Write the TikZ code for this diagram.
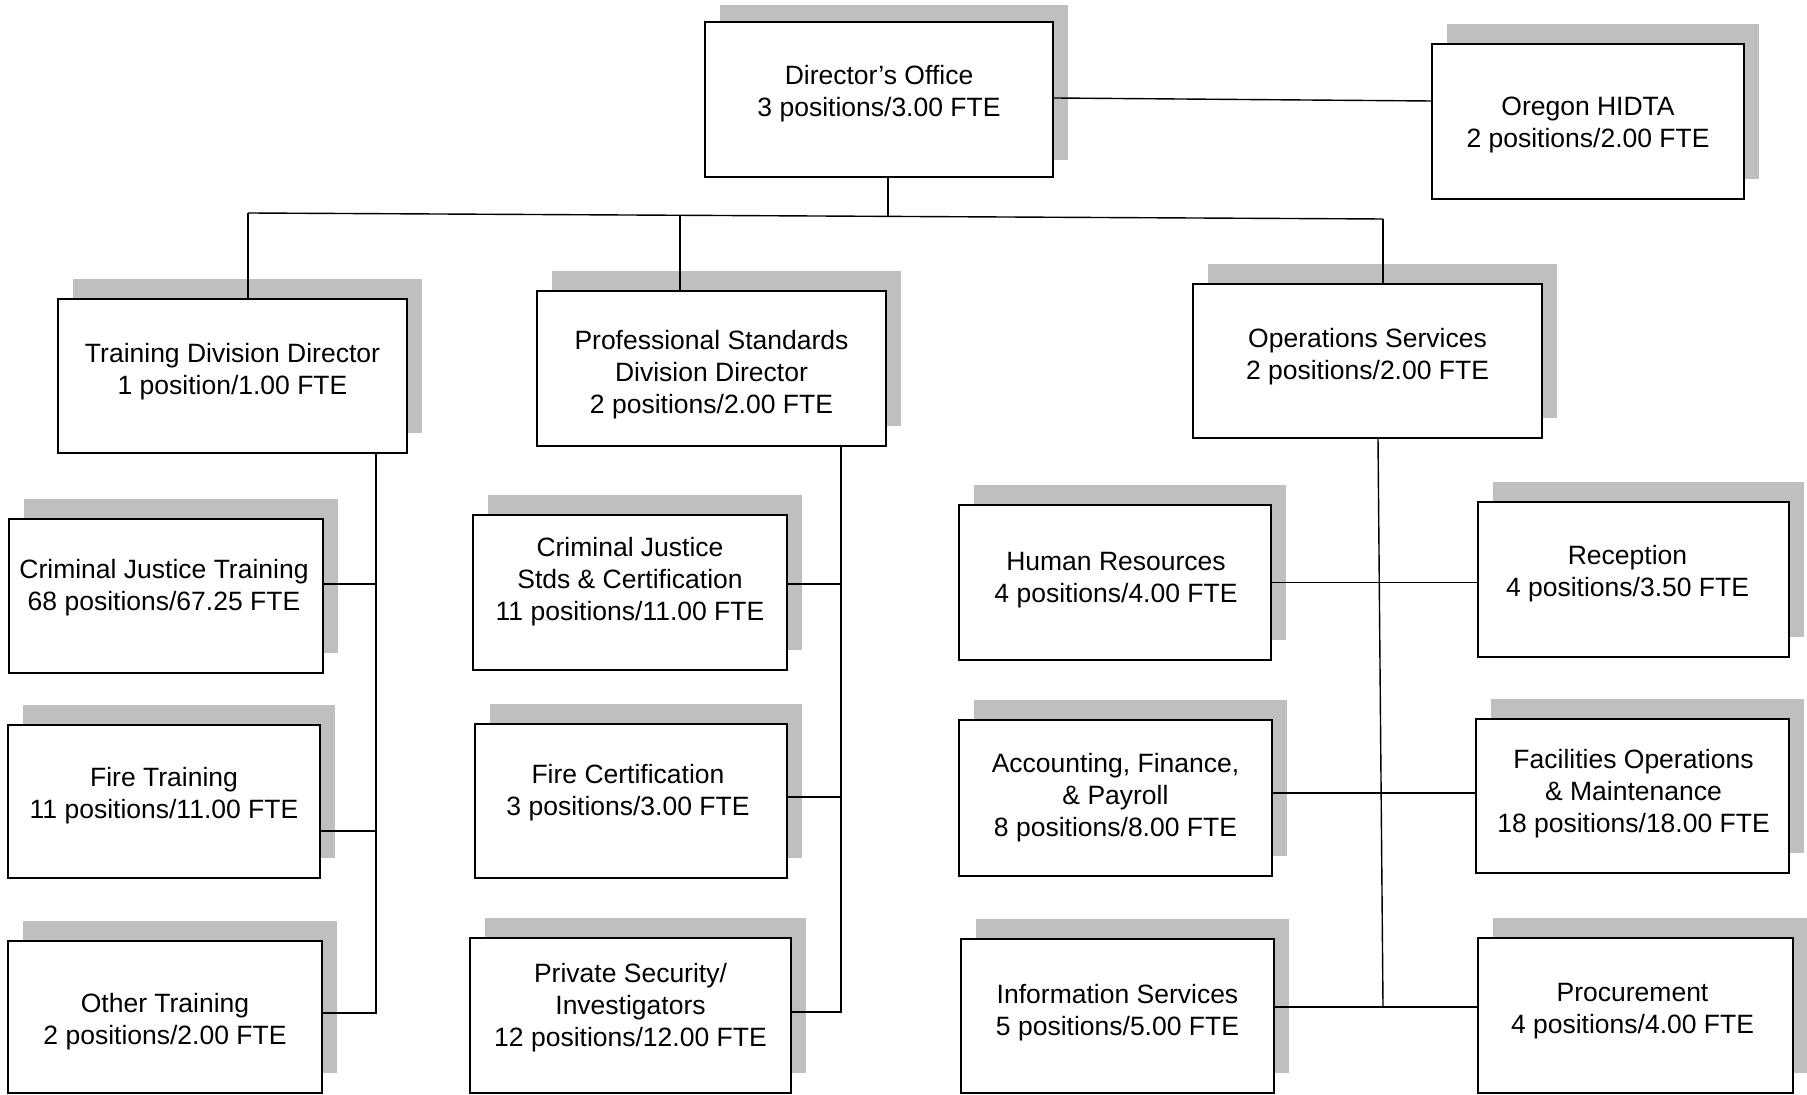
\documentclass[tikz,border=0pt]{standalone}
\usepackage{fontspec}
\setmainfont{Liberation Sans}
\usetikzlibrary{calc}
\definecolor{shadowgray}{RGB}{191,191,191}
\tikzset{
  orgbox/.style={draw=black, line width=1pt, fill=white, inner sep=0pt, rectangle},
  orgtext/.style={align=center, inner sep=0pt, font=\fontsize{13.25}{16}\selectfont},
  conn/.style={draw=black, line width=0.7pt},
}
% name, x1, y1, x2, y2, text dx, cap-top offset, text, shadow dy
\newcommand\obox[9]{%
  \fill[shadowgray] ({#2+15},{#3+(#9)}) rectangle ({#4+15},{#5+(#9)});
  \pgfmathsetmacro\obw{(#4-#2)*0.5}%
  \pgfmathsetmacro\obh{(#5-#3)*0.5}%
  \node[orgbox, minimum width=\obw pt, minimum height=\obh pt] (#1) at ({(#2+#4)/2},{(#3+#5)/2}) {};
  \node[orgtext, anchor=north] (#1-t) at ({(#2+#4)/2+(#6)},{#3+#7}) {#8};
}
\begin{document}
\begin{tikzpicture}[x=0.5pt, y=-0.5pt]
\useasboundingbox (0,0) rectangle (1807,1095);
\fill[white] (0,0) rectangle (1807,1095);

\obox{dir}{705}{22}{1053}{177}{0}{43}{Director’s Office\\3 positions/3.00 FTE}{-17}
\obox{hidta}{1432}{44}{1744}{199}{0}{53}{Oregon HIDTA\\2 positions/2.00 FTE}{-20}
\obox{tdd}{58}{299}{407}{453}{0}{44}{Training Division Director\\1 position/1.00 FTE}{-20}
\obox{psd}{537}{291}{886}{446}{0}{39}{Professional Standards\\Division Director\\2 positions/2.00 FTE}{-20}
\obox{ops}{1193}{284}{1542}{438}{0}{44}{Operations Services\\2 positions/2.00 FTE}{-20}
\obox{cjt}{9}{519}{323}{673}{-2}{40}{Criminal Justice Training\\68 positions/67.25 FTE}{-20}
\obox{ftr}{8}{725}{320}{878}{0}{42}{Fire Training\\11 positions/11.00 FTE}{-20}
\obox{otr}{8}{941}{322}{1093}{0}{52}{Other Training\\2 positions/2.00 FTE}{-20}
\obox{cjs}{473}{515}{787}{670}{0}{22}{Criminal Justice\\Stds \& Certification\\11 positions/11.00 FTE}{-20}
\obox{fce}{475}{724}{787}{878}{-3}{40}{Fire Certification\\3 positions/3.00 FTE}{-20}
\obox{psi}{470}{938}{791}{1093}{0}{25}{Private Security/\\Investigators\\12 positions/12.00 FTE}{-20}
\obox{hr}{959}{505}{1271}{660}{1}{47}{Human Resources\\4 positions/4.00 FTE}{-20}
\obox{afp}{959}{720}{1272}{876}{0}{33}{Accounting, Finance,\\\& Payroll\\8 positions/8.00 FTE}{-20}
\obox{inf}{961}{939}{1274}{1093}{0}{45}{Information Services\\5 positions/5.00 FTE}{-20}
\obox{rec}{1478}{502}{1789}{657}{-6}{43}{Reception\\4 positions/3.50 FTE}{-20}
\obox{fac}{1476}{719}{1789}{873}{1}{30}{Facilities Operations\\\& Maintenance\\18 positions/18.00 FTE}{-20}
\obox{pro}{1478}{938}{1793}{1093}{-3}{45}{Procurement\\4 positions/4.00 FTE}{-20}

% top level connectors
\coordinate (jT) at (248,213);
\coordinate (jP) at (680,215.3);
\coordinate (jD) at (888,216.4);
\coordinate (jO) at (1383,219);
\draw[conn] (jT) -- (jO);
\draw[conn] (jD |- dir.south) -- (jD);
\draw[conn] (jT) -- (jT |- tdd.north);
\draw[conn] (jP) -- (jP |- psd.north);
\draw[conn] (jO) -- (jO |- ops.north);
\coordinate (hA) at (1053,98);
\coordinate (hB) at (1432,101);
\draw[conn] (hA -| dir.east) -- (hB -| hidta.west);

% training column
\coordinate (lB) at (376,1013);
\coordinate (l1) at (376,584);
\coordinate (l2) at (376,831);
\draw[conn] (lB |- tdd.south) -- (lB) -- (otr.east |- lB);
\draw[conn] (cjt.east |- l1) -- (l1);
\draw[conn] (ftr.east |- l2) -- (l2);

% professional standards column
\coordinate (mB) at (841,1012);
\coordinate (m1) at (841,584);
\coordinate (m2) at (841,797);
\draw[conn] (mB |- psd.south) -- (mB) -- (psi.east |- mB);
\draw[conn] (cjs.east |- m1) -- (m1);
\draw[conn] (fce.east |- m2) -- (m2);

% operations column
\coordinate (rT) at (1378,438);
\coordinate (rB) at (1383,1007);
\coordinate (r2) at (1380,793);
\draw[conn] (rT |- ops.south) -- (rB);
\draw[conn] (hr.east) -- (rec.west |- hr.east);
\draw[conn] (afp.east |- r2) -- (fac.west |- r2);
\draw[conn] (inf.east |- rB) -- (pro.west |- rB);
\end{tikzpicture}
\end{document}
